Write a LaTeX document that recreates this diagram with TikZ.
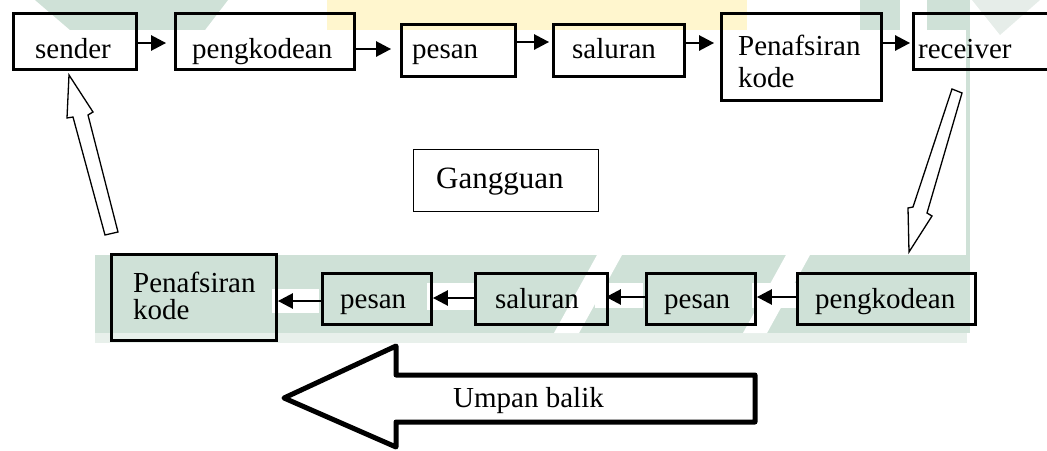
\documentclass[tikz,border=0pt]{standalone}
\usepackage{fontspec}
\setmainfont{Liberation Serif}
\usetikzlibrary{arrows.meta}
\definecolor{wmgreen}{RGB}{207,225,215}
\definecolor{wmyellow}{RGB}{255,246,206}
\definecolor{wmpale}{RGB}{230,237,233}
\definecolor{wmfade}{RGB}{232,240,235}
\begin{document}
\begin{tikzpicture}[x=1pt,y=-1pt,
  box/.style n args={2}{draw=black, line width=2.8pt, inner sep=0pt,
    minimum width=#1pt, minimum height=#2pt},
  thinbox/.style n args={2}{draw=black, line width=1.2pt, inner sep=0pt,
    minimum width=#1pt, minimum height=#2pt},
  lbl/.style={anchor=base west, inner sep=0pt, font=\fontsize{29}{33}\selectfont},
  flow/.style={line width=2.6pt, -{Triangle[length=15pt,width=15pt]}},
  hollow/.style={draw=black, line width=1.3pt, fill=white, line join=miter}]
\useasboundingbox (0,0) rectangle (1047,450);

% faint background marks
\fill[wmgreen] (35,0) -- (228,0) -- (205,30) -- (70,30) -- cycle;
\fill[wmyellow] (327,0) rectangle (747,30);
\fill[wmgreen] (860,0) rectangle (900,30);
\fill[wmgreen] (927,0) rectangle (970,333);
\fill[wmpale] (972,0) -- (1040,0) -- (1000,35) -- cycle;
\fill[wmfade] (95,333) rectangle (967,343);
\fill[wmgreen] (95,255) rectangle (967,333);
\fill[white] (597,255) -- (622,255) -- (579,333) -- (554,333) -- cycle;
\fill[white] (786,255) -- (810,255) -- (767,333) -- (743,333) -- cycle;
\fill[white] (0,30) rectangle (966,255);

% white patches behind the return arrows
\fill[white] (272,289) rectangle (319,313);
\fill[white] (427,283) rectangle (475,310);
\fill[white] (595,283) rectangle (643,308);
\fill[white] (752,283) rectangle (797,308);

% forward chain
\node[box={123}{56}] (s1) at (75,41.5) {};
\node[box={179}{56}] (s2) at (265,41.5) {};
\node[box={114}{52}] (s3) at (458.5,50.5) {};
\node[box={131}{52}] (s4) at (619,50.5) {};
\node[box={160}{87}] (s5) at (801.5,57) {};
\node[box={140}{56}] (s6) at (983.5,41.5) {};

\node[lbl] (t1) at (35,58) {sender};
\node[lbl] (t2) at (192,58) {pengkodean};
\node[lbl] (t3) at (412,58) {pesan};
\node[lbl] (t4) at (572,58) {saluran};
\node[lbl] (t5a) at (738,55) {Penafsiran};
\node[lbl] (t5b) at (738,87) {kode};
\node[lbl] (t6) at (918,58) {receiver};

\draw[flow, shorten >=8pt] (s1.east |- 0,43) -- (s2.west |- 0,43);
\draw[flow, shorten >=9pt] (s2.east |- 0,49) -- (s3.west |- 0,49);
\draw[flow, shorten >=3pt] (s3.east |- 0,42) -- (s4.west |- 0,42);
\draw[flow, shorten >=6pt] (s4.east |- 0,43) -- (s5.west |- 0,43);
\draw[flow, shorten >=2pt] (s5.east |- 0,43) -- (s6.west |- 0,43);

% noise
\node[thinbox={185}{62}] (g) at (506,180.5) {};
\node[lbl, font=\fontsize{31}{35}\selectfont] (gt) at (436,188) {Gangguan};

% return chain
\node[box={165}{86}] (b1) at (194,297.5) {};
\node[box={109}{51}] (b2) at (377,299) {};
\node[box={132}{51}] (b3) at (541.5,299) {};
\node[box={109}{51}] (b4) at (701,299) {};
\node[box={178}{51}] (b5) at (886.5,299) {};

\node[lbl] (u1a) at (133,292) {Penafsiran};
\node[lbl] (u1b) at (133,319) {kode};
\node[lbl] (u2) at (340,308) {pesan};
\node[lbl] (u3) at (495,308) {saluran};
\node[lbl] (u4) at (664,308) {pesan};
\node[lbl] (u5) at (815,308) {pengkodean};

\draw[flow, shorten >=0pt] (b2.west |- 0,301) -- (b1.east |- 0,301);
\draw[flow, shorten >=0pt] (b3.west |- 0,298) -- (b2.east |- 0,298);
\draw[flow, shorten >=-3pt] (b4.west |- 0,297) -- (b3.east |- 0,297);
\draw[flow, shorten >=0pt] (b5.west |- 0,297) -- (b4.east |- 0,297);

% hollow arrows linking the two chains
\draw[hollow] (952,89) -- (962,93) -- (927,213) -- (932,216) -- (909,252)
  -- (908,208) -- (913,207) -- cycle;
\draw[hollow] (69,75) -- (93,112) -- (88,115) -- (118,232) -- (105,235)
  -- (73,117) -- (67,118) -- cycle;

% feedback arrow
\draw[draw=black, line width=5pt, fill=white, line join=round]
  (284,398) -- (396,346) -- (396,375) -- (755,375) -- (755,422)
  -- (396,422) -- (396,447) -- cycle;
\node[lbl] (fb) at (453,407) {Umpan balik};
\end{tikzpicture}
\end{document}
